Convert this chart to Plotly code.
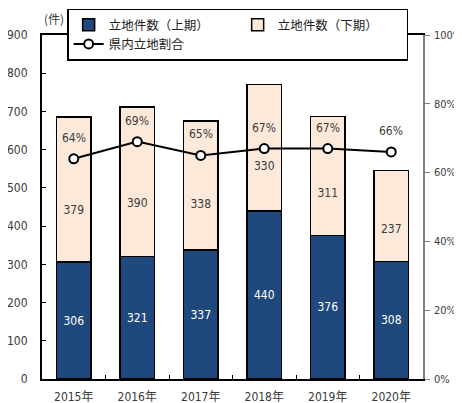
import plotly.graph_objects as go

years = ["2015年", "2016年", "2017年", "2018年", "2019年", "2020年"]
first_half = [306, 321, 337, 440, 376, 308]
second_half = [379, 390, 338, 330, 311, 237]
share_pct = [64, 69, 65, 67, 67, 66]

NARROW = "DejaVu Sans Condensed, Liberation Sans Narrow, Noto Sans CJK JP, sans-serif"
CJK = "Noto Sans CJK JP, sans-serif"
TXT = "#3A3A3A"

fig = go.Figure()
fig.add_trace(go.Bar(
    x=years, y=first_half, name="立地件数（上期）",
    marker=dict(color="#1F487C", line=dict(color="black", width=1.5)),
    text=[str(v) for v in first_half], textposition="inside",
    insidetextanchor="middle", textangle=0,
    textfont=dict(color="white", size=12, family=NARROW),
))
fig.add_trace(go.Bar(
    x=years, y=second_half, name="立地件数（下期）",
    marker=dict(color="#FDE9D9", line=dict(color="black", width=1.5)),
))
# labels for the second-half segments, placed in the lower part of the segment
fig.add_trace(go.Scatter(
    x=years, y=[a + 0.35 * b for a, b in zip(first_half, second_half)],
    mode="text", text=[str(v) for v in second_half], showlegend=False,
    textfont=dict(color=TXT, size=12, family=NARROW),
    hoverinfo="skip",
))
fig.add_trace(go.Scatter(
    x=years, y=[p / 100 for p in share_pct], name="県内立地割合",
    yaxis="y2", mode="lines+markers",
    line=dict(color="black", width=2),
    marker=dict(symbol="circle", size=9, color="white",
                line=dict(color="black", width=2)),
    cliponaxis=False,
))

annotations = [dict(
    text="(件)", xref="paper", yref="paper", x=0.031, y=1.047,
    xanchor="center", yanchor="middle", showarrow=False,
    font=dict(family=CJK, size=12, color=TXT),
)]
for yr, p in zip(years, share_pct):
    annotations.append(dict(
        x=yr, y=p / 100, xref="x", yref="y2", text=f"{p}%",
        showarrow=False, yshift=21, xanchor="center", yanchor="middle",
        font=dict(family=NARROW, size=12, color=TXT),
    ))

# the page adds an 8px body margin, so the figure is sized to fill the rest
fig.update_layout(
    width=454, height=395,
    margin=dict(l=34, r=39, t=27, b=24, autoexpand=False),
    paper_bgcolor="white", plot_bgcolor="white",
    barmode="stack", bargap=0.45,
    font=dict(family=CJK, size=12, color=TXT),
    showlegend=True,
    legend=dict(
        orientation="h", x=0.066, y=1.077, xanchor="left", yanchor="top",
        bgcolor="white", bordercolor="black", borderwidth=1.5,
        entrywidth=124, entrywidthmode="pixels",
        font=dict(family=CJK, size=12.5, color="#222222"),
        traceorder="normal", tracegroupgap=0,
    ),
    xaxis=dict(
        showline=True, linecolor="black", linewidth=2, mirror=True,
        ticks="inside", ticklen=4, tickson="boundaries", tickcolor="black",
        showgrid=False, ticklabelstandoff=6, automargin=False,
        tickfont=dict(family=NARROW, size=12, color=TXT),
    ),
    yaxis=dict(
        range=[0, 900], dtick=100, showline=True, linecolor="black",
        linewidth=2, ticks="inside", ticklen=4, tickcolor="black",
        showgrid=False, zeroline=False, ticklabelstandoff=10, automargin=False,
        tickfont=dict(family=NARROW, size=12, color=TXT),
    ),
    yaxis2=dict(
        range=[0, 1], dtick=0.2, tickformat=".0%", overlaying="y",
        side="right", showline=True, linecolor="#7F7F7F", linewidth=1.5,
        ticks="outside", ticklen=5, tickcolor="#7F7F7F", automargin=False,
        showgrid=False, zeroline=False, ticklabelstandoff=2,
        tickfont=dict(family=NARROW, size=11, color=TXT),
    ),
    annotations=annotations,
)

fig.write_html("out.html")
